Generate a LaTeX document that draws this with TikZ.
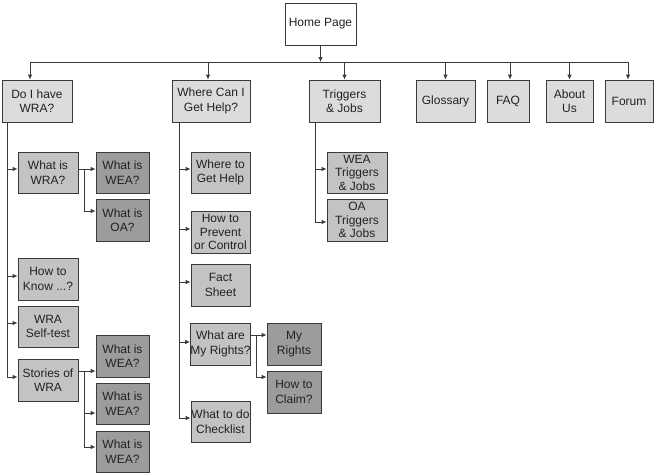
\documentclass[tikz,border=0pt]{standalone}
\usepackage{fontspec}
\setmainfont{Liberation Sans}
\usetikzlibrary{arrows.meta}
\definecolor{lone}{HTML}{DCDCDC}
\definecolor{ltwo}{HTML}{C3C3C3}
\definecolor{lthree}{HTML}{9C9C9C}
\definecolor{edge}{HTML}{3A3A3A}
\definecolor{txt}{HTML}{222222}
\newcommand\bx[7]{\node[box,fill=#6,minimum width={(#4-#2)*1pt},minimum height={(#5-#3)*1pt}] (#1) at ({(#2+#4)/2},{(#3+#5)/2}) {#7};}
\begin{document}
\begin{tikzpicture}[x=1pt,y=-1pt,
  box/.style={draw=edge,line width=0.8pt,inner sep=0pt,align=center,text=txt,
    font=\fontsize{12}{14.5}\selectfont},
  tri/.style={font=\fontsize{12}{13.5}\selectfont},
  link/.style={draw=edge,line width=0.8pt},
  arr/.style={link,-{Latex[length=5pt,width=4.5pt]}}]
\useasboundingbox (0,0) rectangle (658,475);
\fill[white] (0,0) rectangle (658,475);
% top
\bx{home}{285}{3}{356}{45}{white}{Home Page}
\bx{doi}{2}{80}{72}{122}{lone}{Do I have\\WRA?}
\bx{where}{172}{80}{250}{122}{lone}{Where Can I\\Get Help?}
\bx{trig}{309}{80}{380}{122}{lone}{Triggers\\\& Jobs}
\bx{gloss}{416}{80}{475}{122}{lone}{Glossary}
\bx{faq}{487}{80}{529}{122}{lone}{FAQ}
\bx{about}{546}{80}{593}{122}{lone}{About\\Us}
\bx{forum}{605}{80}{653}{122}{lone}{Forum}
% column 1
\bx{wra}{18}{152}{78}{193}{ltwo}{What is\\WRA?}
\bx{wea}{96}{152}{149}{193}{lthree}{What is\\WEA?}
\bx{oa}{96}{199}{149}{241}{lthree}{What is\\OA?}
\bx{know}{18}{258}{78}{300}{ltwo}{How to\\Know ...?}
\bx{self}{18}{306}{78}{347}{ltwo}{WRA\\Self-test}
\bx{stories}{18}{359}{78}{401}{ltwo}{Stories of\\WRA}
\bx{sa}{96}{335}{149}{377}{lthree}{What is\\WEA?}
\bx{sb}{96}{383}{149}{424}{lthree}{What is\\WEA?}
\bx{sc}{96}{431}{149}{472}{lthree}{What is\\WEA?}
% column 2
\bx{gethelp}{191}{152}{250}{193}{ltwo}{Where to\\Get Help}
\node[box,tri,fill=ltwo,minimum width=59pt,minimum height=42pt] (prevent) at (220.5,232) {How to\\Prevent\\or Control};
\bx{fact}{191}{264}{250}{306}{ltwo}{Fact\\Sheet}
\bx{rights}{191}{323}{250}{365}{ltwo}{What are\\My Rights?}
\bx{myrights}{267}{323}{321}{365}{lthree}{My\\Rights}
\bx{claim}{267}{371}{321}{413}{lthree}{How to\\Claim?}
\bx{check}{191}{401}{250}{442}{ltwo}{What to do\\Checklist}
% column 3
\node[box,tri,fill=ltwo,minimum width=60pt,minimum height=41pt] (weat) at (357,172.5) {WEA\\Triggers\\\& Jobs};
\node[box,tri,fill=ltwo,minimum width=60pt,minimum height=42pt] (oat) at (357,220) {OA\\Triggers\\\& Jobs};
% junction coordinates
\coordinate (bus) at (0,62);
\coordinate (ta) at (7,0);
\coordinate (tb) at (179,0);
\coordinate (tc) at (315,0);
\coordinate (ja) at (84,0);
\coordinate (jb) at (84,0);
\coordinate (jc) at (256,0);
% bus
\draw[arr] (home.south) -- (home.south |- bus);
\draw[link] (30,62) -- (628,62);
\draw[arr] (30,62) -- (doi.north -| 30,0);
\draw[arr] (208,62) -- (where.north -| 208,0);
\draw[arr] (trig.north |- bus) -- (trig.north);
\draw[arr] (gloss.north |- bus) -- (gloss.north);
\draw[arr] (510,62) -- (faq.north -| 510,0);
\draw[arr] (about.north |- bus) -- (about.north);
\draw[arr] (628,62) -- (forum.north -| 628,0);
% column 1 trunk
\draw[link] (doi.south -| ta) -- (ta |- 0,377);
\draw[arr] (ta |- 0,169) -- (wra.west |- 0,169);
\draw[arr] (ta |- 0,276) -- (know.west |- 0,276);
\draw[arr] (ta |- 0,323) -- (self.west |- 0,323);
\draw[arr] (ta |- 0,377) -- (stories.west |- 0,377);
\draw[arr] (wra.east |- 0,169) -- (wea.west |- 0,169);
\draw[arr] (ja |- 0,169) |- (oa.west |- 0,211);
\draw[arr] (stories.east |- 0,371) -- (sa.west |- 0,371);
\draw[link] (jb |- 0,371) -- (jb |- 0,447);
\draw[arr] (jb |- 0,413) -- (sb.west |- 0,413);
\draw[arr] (jb |- 0,447) -- (sc.west |- 0,447);
% column 2 trunk
\draw[link] (where.south -| tb) -- (tb |- 0,418);
\draw[arr] (tb |- 0,169) -- (gethelp.west |- 0,169);
\draw[arr] (tb |- 0,229) -- (prevent.west |- 0,229);
\draw[arr] (tb |- 0,282) -- (fact.west |- 0,282);
\draw[arr] (tb |- 0,342) -- (rights.west |- 0,342);
\draw[arr] (tb |- 0,418) -- (check.west |- 0,418);
\draw[arr] (rights.east |- 0,335) -- (myrights.west |- 0,335);
\draw[arr] (jc |- 0,335) |- (claim.west |- 0,377);
% column 3 trunk
\draw[link] (trig.south -| tc) -- (tc |- 0,222);
\draw[arr] (tc |- 0,169) -- (weat.west |- 0,169);
\draw[arr] (tc |- 0,222) -- (oat.west |- 0,222);
\end{tikzpicture}
\end{document}
